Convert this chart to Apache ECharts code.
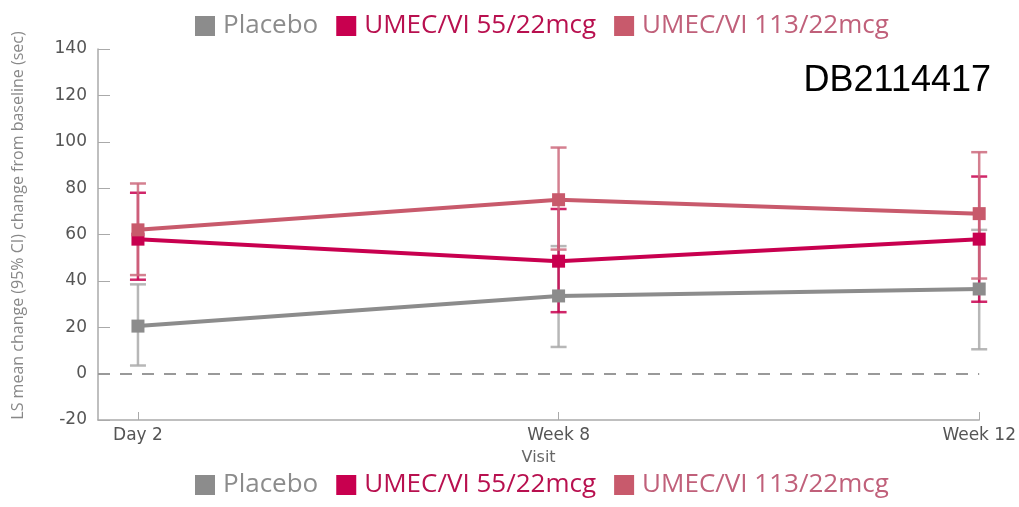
<!DOCTYPE html>
<html>
<head>
<meta charset="utf-8">
<script src="https://cdn.jsdelivr.net/npm/echarts@6/dist/echarts.min.js"></script>
<style>
  html, body { margin: 0; padding: 0; background: #fff; }
  #chart { width: 1019px; height: 507px; }
</style>
</head>
<body>
<div id="chart"></div>
<script>
// Visits on the x axis
const visits = ['Day 2', 'Week 8', 'Week 12'];

// LS mean change from baseline (sec) with 95% CI bounds
const placeboMean = [20.5, 33.5, 36.5];
const placeboLow  = [3.5, 11.5, 10.5];
const placeboHigh = [38.5, 55, 62];

const umec55Mean = [58, 48.5, 58];
const umec55Low  = [40.5, 26.5, 31];
const umec55High = [78, 71, 85];

const umec113Mean = [62, 75, 69];
const umec113Low  = [42.5, 53.5, 41];
const umec113High = [82, 97.5, 95.5];

const seriesNames = ['Placebo', 'UMEC/VI 55/22mcg', 'UMEC/VI 113/22mcg'];
const seriesColors = ['#8c8c8c', '#c8004f', '#c85a6c'];
const barColors = ['#aaaaaa', '#c8004f', '#cc6a7c'];
const legendTextColors = ['#8c8c8c', '#b8104f', '#c0607a'];

const FONT = '"Open Sans", "Noto Sans", sans-serif';
const AXIS_FONT = '"DejaVu Sans", sans-serif';

function errorBars(idx, low, high, z) {
  return {
    type: 'custom',
    name: seriesNames[idx] + ' CI',
    z: z,
    silent: true,
    data: visits.map((_, i) => [i, low[i], high[i]]),
    encode: { x: 0, y: [1, 2] },
    renderItem(params, api) {
      const x = api.value(0);
      const lo = api.coord([x, api.value(1)]);
      const hi = api.coord([x, api.value(2)]);
      const hw = 8;
      const style = { stroke: barColors[idx], lineWidth: 2.5, opacity: 0.85 };
      return {
        type: 'group',
        children: [
          { type: 'line', shape: { x1: lo[0], y1: lo[1], x2: hi[0], y2: hi[1] }, style },
          { type: 'line', shape: { x1: hi[0] - hw, y1: hi[1], x2: hi[0] + hw, y2: hi[1] }, style },
          { type: 'line', shape: { x1: lo[0] - hw, y1: lo[1], x2: lo[0] + hw, y2: lo[1] }, style }
        ]
      };
    }
  };
}

function meanLine(idx, values, z, extra) {
  return Object.assign({
    type: 'line',
    name: seriesNames[idx],
    z: z,
    data: values.map((v, i) => [i, v]),
    symbol: 'rect',
    symbolSize: 13,
    showSymbol: true,
    lineStyle: { width: 4, color: seriesColors[idx] },
    itemStyle: { color: seriesColors[idx] },
    emphasis: { disabled: true }
  }, extra || {});
}

function legendBlock(pos) {
  return Object.assign({
    left: 190,
    icon: 'rect',
    itemWidth: 20,
    itemHeight: 20,
    itemGap: 18,
    selectedMode: false,
    textStyle: { fontSize: 26, fontFamily: FONT, padding: [0, 0, 0, 3] },
    data: seriesNames.map((n, i) => ({
      name: n,
      itemStyle: { color: seriesColors[i] },
      textStyle: { color: legendTextColors[i] }
    }))
  }, pos);
}

const chart = echarts.init(document.getElementById('chart'));
chart.setOption({
  animation: false,
  backgroundColor: '#fff',
  title: {
    text: 'DB2114417',
    right: 23,
    top: 58,
    textStyle: { fontFamily: '"Liberation Sans", Arial, sans-serif', fontSize: 36, fontWeight: 'normal', color: '#000' }
  },
  legend: [
    legendBlock({ top: 8 }),
    legendBlock({ bottom: 4 })
  ],
  grid: { left: 98, right: 39, top: 49, bottom: 87 },
  xAxis: {
    type: 'value',
    min: -0.095,
    max: 2,
    name: 'Visit',
    nameLocation: 'middle',
    nameGap: 30,
    nameTextStyle: { fontFamily: AXIS_FONT, fontSize: 16, color: '#666' },
    splitLine: { show: false },
    axisLine: { onZero: false, lineStyle: { color: '#aaa', width: 1.5 } },
    axisTick: { inside: true, length: 8, lineStyle: { color: '#aaa' }, customValues: [0, 1, 2] },
    axisLabel: {
      customValues: [0, 1, 2],
      formatter: v => visits[Math.round(v)],
      fontFamily: AXIS_FONT, fontSize: 17, color: '#555', margin: 7
    }
  },
  yAxis: {
    type: 'value',
    min: -20,
    max: 140,
    interval: 20,
    name: 'LS mean change (95% CI) change from baseline (sec)',
    nameLocation: 'middle',
    nameGap: 72,
    nameTextStyle: { fontFamily: FONT, fontSize: 16, color: '#888', padding: [0, 0, 0, 18] },
    splitLine: { show: false },
    axisLine: { show: true, onZero: false, lineStyle: { color: '#aaa', width: 1.5 } },
    axisTick: { inside: true, length: 12, lineStyle: { color: '#aaa' } },
    axisLabel: { fontFamily: AXIS_FONT, fontSize: 17, color: '#555', margin: 11 }
  },
  series: [
    meanLine(0, placeboMean, 5, {
      markLine: {
        silent: true,
        symbol: 'none',
        label: { show: false },
        lineStyle: { color: '#999', type: [12, 10], width: 2 },
        data: [{ yAxis: 0 }]
      }
    }),
    errorBars(0, placeboLow, placeboHigh, 3),
    errorBars(1, umec55Low, umec55High, 4),
    meanLine(1, umec55Mean, 6),
    errorBars(2, umec113Low, umec113High, 4),
    meanLine(2, umec113Mean, 7)
  ]
});
</script>
</body>
</html>
